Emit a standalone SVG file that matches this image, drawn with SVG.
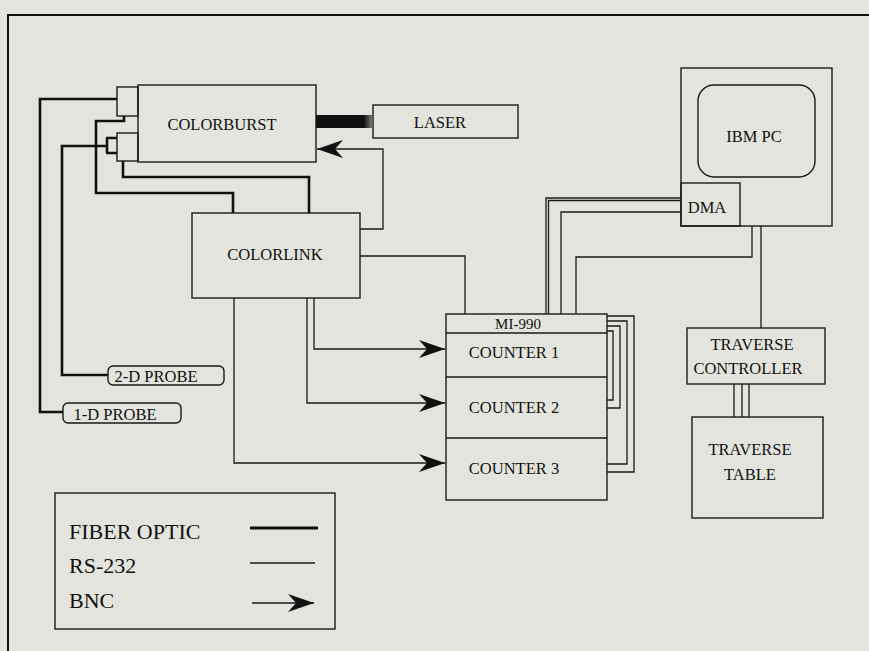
<svg xmlns="http://www.w3.org/2000/svg" width="869" height="651" viewBox="0 0 869 651">
<defs>
<style>
.box{fill:none;stroke:#1a1a1a;stroke-width:1.4}
.thin{fill:none;stroke:#1a1a1a;stroke-width:1.3}
.fiber{fill:none;stroke:#111;stroke-width:2.6}
.t{font-family:"Liberation Serif","Times New Roman",serif;font-size:16.5px;fill:#111;text-anchor:middle;dominant-baseline:central}
.lg{font-family:"Liberation Serif","Times New Roman",serif;font-size:22px;fill:#111}
</style>
<marker id="arr" markerUnits="userSpaceOnUse" markerWidth="28" markerHeight="20" refX="26" refY="9" orient="auto" viewBox="0 0 28 20">
<path d="M0,0 L26,9 L0,18 L8,9 Z" fill="#111"/>
</marker>
<linearGradient id="fade" x1="0" x2="1" y1="0" y2="0">
<stop offset="0" stop-color="#111"/>
<stop offset="0.85" stop-color="#111"/>
<stop offset="1" stop-color="#777"/>
</linearGradient>
</defs>
<rect x="0" y="0" width="869" height="651" fill="#e3e4dd"/>
<path d="M8,651 V15 H869" fill="none" stroke="#111" stroke-width="2"/>

<g id="connectors">
<path class="fiber" d="M117,99 H40 V412 H63"/>
<path class="fiber" d="M107,146 H62 V375 H108"/>
<path class="fiber" d="M107,138 V153 M106,138 H117 M106,153 H117"/>
<path class="fiber" d="M124,116 V121 H96 V193 H233 V213"/>
<path class="fiber" d="M123,161 V177 H309 V213"/>
<rect x="316" y="115" width="56" height="13" fill="url(#fade)"/>
<path class="thin" d="M360,229 H383 V149 H317" marker-end="url(#arr)"/>
<path class="thin" d="M314,298 V349 H445" marker-end="url(#arr)"/>
<path class="thin" d="M307,298 V403 H445" marker-end="url(#arr)"/>
<path class="thin" d="M234,298 V463 H445" marker-end="url(#arr)"/>
<path class="thin" d="M360,256 H465 V314"/>
<path class="thin" d="M681,198 H546 V314 M681,200.5 H548.5 V314"/>
<path class="thin" d="M681,212 H561 V314"/>
<path class="thin" d="M752,226 V257 H576 V314"/>
<path class="thin" d="M761,226 V328"/>
<path class="thin" d="M607,316 H634 V472 H607"/>
<path class="thin" d="M607,321 H627 V464 H607"/>
<path class="thin" d="M607,326 H620 V408 H607"/>
<path class="thin" d="M607,331 H613 V400 H607"/>
<path class="thin" d="M734,384 V417 M742,384 V417 M749,384 V417"/>
</g>

<g id="colorburst">
<rect class="box" x="138" y="85" width="178" height="77"/>
<rect class="box" x="117" y="87" width="21" height="29"/>
<rect class="box" x="117" y="133" width="21" height="28"/>
<text class="t" x="222" y="124">COLORBURST</text>
</g>
<g id="laser">
<rect class="box" x="373" y="105" width="145" height="33"/>
<text class="t" x="440" y="122">LASER</text>
</g>
<g id="colorlink">
<rect class="box" x="192" y="213" width="168" height="85"/>
<text class="t" x="275" y="254">COLORLINK</text>
</g>
<g id="probe2d">
<rect class="box" x="108" y="366" width="116" height="19" rx="5"/>
<text class="t" x="156" y="376">2-D PROBE</text>
</g>
<g id="probe1d">
<rect class="box" x="63" y="403" width="118" height="20" rx="5"/>
<text class="t" x="115" y="414">1-D PROBE</text>
</g>
<g id="mi990">
<rect class="box" x="446" y="314" width="161" height="186"/>
<line class="box" x1="446" y1="333" x2="607" y2="333"/>
<line class="box" x1="446" y1="377" x2="607" y2="377"/>
<line class="box" x1="446" y1="438" x2="607" y2="438"/>
<text class="t" x="518" y="324" style="font-size:15px">MI-990</text>
<text class="t" x="514" y="352">COUNTER 1</text>
<text class="t" x="514" y="407">COUNTER 2</text>
<text class="t" x="514" y="468">COUNTER 3</text>
</g>
<g id="ibmpc">
<rect class="box" x="681" y="68" width="151" height="158"/>
<rect class="box" x="698" y="85" width="117" height="92" rx="16"/>
<text class="t" x="754" y="136">IBM PC</text>
</g>
<g id="dma">
<rect class="box" x="681" y="183" width="59" height="43"/>
<text class="t" x="707" y="207">DMA</text>
</g>
<g id="traverse-controller">
<rect class="box" x="687" y="328" width="138" height="56"/>
<text class="t" x="752" y="344">TRAVERSE</text>
<text class="t" x="748" y="368">CONTROLLER</text>
</g>
<g id="traverse-table">
<rect class="box" x="692" y="417" width="131" height="101"/>
<text class="t" x="750" y="449">TRAVERSE</text>
<text class="t" x="750" y="474">TABLE</text>
</g>
<g id="legend">
<rect class="box" x="55" y="493" width="280" height="136"/>
<text class="lg" x="69" y="539">FIBER OPTIC</text>
<text class="lg" x="69" y="573">RS-232</text>
<text class="lg" x="69" y="608">BNC</text>
<line x1="250" y1="528" x2="318" y2="528" stroke="#111" stroke-width="3.2"/>
<line class="thin" x1="250" y1="563" x2="315" y2="563"/>
<line class="thin" x1="252" y1="603" x2="314" y2="603" marker-end="url(#arr)"/>
</g>
</svg>
